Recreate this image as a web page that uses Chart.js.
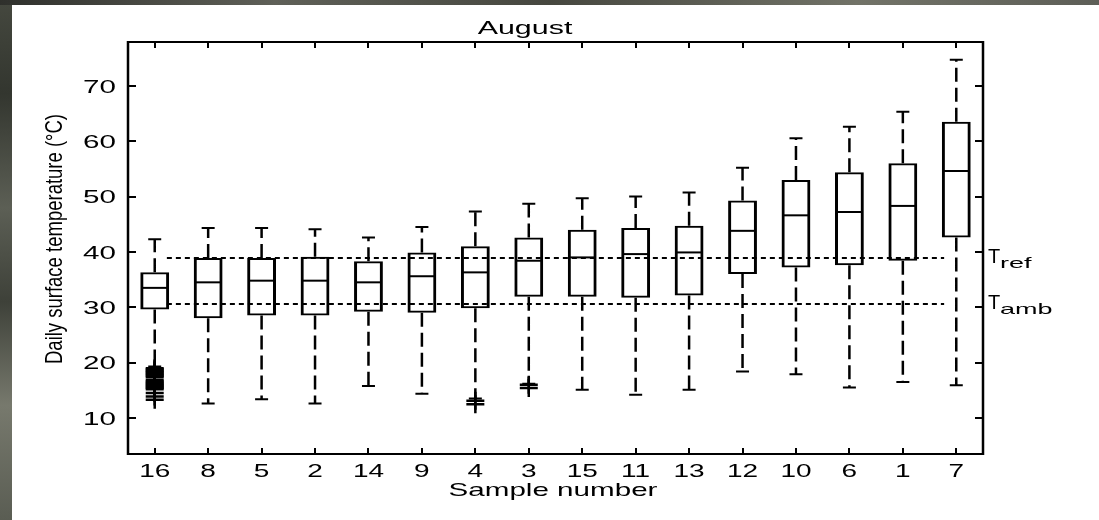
<!DOCTYPE html>
<html>
<head>
<meta charset="utf-8">
<title>August – daily surface temperature</title>
<script src="https://cdn.jsdelivr.net/npm/chart.js@4.4.1/dist/chart.umd.min.js"></script>
<style>
  html, body { margin: 0; padding: 0; width: 1099px; height: 520px; overflow: hidden; }
  body {
    position: relative;
    background: linear-gradient(180deg, #45483f 0%, #33362f 18%, #5c5f55 40%, #3e4139 58%, #77796d 78%, #5a5d53 100%);
  }
  #topband {
    position: absolute; left: 0; top: 0; width: 1099px; height: 5px;
    background: linear-gradient(90deg, #2f302c 0%, #5f6058 25%, #46473f 50%, #727368 78%, #5d5e57 100%);
  }
  #panel { position: absolute; left: 12px; top: 5px; right: 0; bottom: 0; background: #fff; }
  #wrap { position: absolute; left: 0; top: 0; width: 1099px; height: 520px; }
</style>
</head>
<body>
<div id="topband"></div>
<div id="panel"></div>
<div id="wrap"><canvas id="chart" width="1099" height="520"></canvas></div>
<script>
// Samples, ordered by median surface temperature
const samples = ['16', '8', '5', '2', '14', '9', '4', '3', '15', '11', '13', '12', '10', '6', '1', '7'];

// Box-plot statistics (°C)
const upperWhisker = [42.3, 44.3, 44.3, 44.1, 42.6, 44.5, 47.3, 48.7, 49.7, 50.0, 50.7, 55.2, 60.5, 62.6, 65.3, 74.7];
const q3           = [36.3, 38.9, 38.9, 39.1, 38.3, 39.9, 41.0, 42.6, 44.0, 44.3, 44.7, 49.3, 53.0, 54.4, 56.0, 63.5];
const median       = [33.5, 34.5, 34.8, 34.8, 34.5, 35.6, 36.3, 38.4, 39.0, 39.6, 39.9, 43.8, 46.6, 47.2, 48.3, 54.6];
const q1           = [29.6, 28.0, 28.5, 28.5, 29.2, 29.0, 29.8, 31.9, 31.9, 31.7, 32.1, 36.0, 37.2, 37.6, 38.4, 42.6];
const lowerWhisker = [19.3, 12.6, 13.4, 12.6, 15.8, 14.4, 13.5, 16.2, 15.1, 14.2, 15.1, 18.4, 17.9, 15.5, 16.5, 15.9];

// Outliers (°C)
const outliers16 = [19.0, 18.8, 18.6, 18.4, 18.2, 18.0, 17.8, 17.6, 17.35, 16.85, 16.6, 16.4, 16.2, 16.0, 15.8, 15.6, 15.4, 15.2, 14.5, 13.9, 13.3];
const outliers4  = [13.1, 12.5];
const outliers3  = [16.0, 15.4];

// Reference temperatures (°C)
const tRef = 38.9;
const tAmb = 30.6;

// Axis ticks
const yTicks = [10, 20, 30, 40, 50, 60, 70];
const yMin = 3.5, yMax = 77.9;

const FONT = '"Liberation Sans", Arial, Helvetica, sans-serif';
const WIDE = 1.6;   // horizontal stretch of the figure lettering

const whiskerPoints = [];
samples.forEach((s, i) => {
  whiskerPoints.push({ x: s, y: q3[i] }, { x: s, y: upperWhisker[i] }, { x: s, y: null });
  whiskerPoints.push({ x: s, y: q1[i] }, { x: s, y: lowerWhisker[i] }, { x: s, y: null });
});
const capPoints = [];
samples.forEach((s, i) => {
  capPoints.push({ x: s, y: upperWhisker[i] }, { x: s, y: lowerWhisker[i] });
});
const outlierPoints = [
  ...outliers16.map(v => ({ x: '16', y: v })),
  ...outliers4.map(v => ({ x: '4', y: v })),
  ...outliers3.map(v => ({ x: '3', y: v }))
];

function wideText(ctx, str, px, py, size, align, stretch) {
  ctx.save();
  ctx.translate(px, py);
  ctx.scale(stretch, 1);
  ctx.font = size + 'px ' + FONT;
  ctx.textAlign = align;
  ctx.textBaseline = 'alphabetic';
  ctx.fillStyle = '#000';
  ctx.fillText(str, 0, 0);
  ctx.restore();
}

// Axes frame with inward ticks, tick labels, titles and reference labels
const frameAndText = {
  id: 'frameAndText',
  afterDraw(chart) {
    const { ctx, chartArea: a, scales } = chart;
    const x = scales.x, y = scales.y;
    ctx.save();
    ctx.strokeStyle = '#000';
    ctx.lineCap = 'butt';

    // ticks
    ctx.lineWidth = 2;
    samples.forEach((s, i) => {
      const px = Math.round(x.getPixelForValue(i));
      ctx.beginPath();
      ctx.moveTo(px, a.bottom); ctx.lineTo(px, a.bottom - 6);
      ctx.moveTo(px, a.top); ctx.lineTo(px, a.top + 6);
      ctx.stroke();
    });
    yTicks.forEach(v => {
      const py = Math.round(y.getPixelForValue(v));
      ctx.beginPath();
      ctx.moveTo(a.left, py); ctx.lineTo(a.left + 8, py);
      ctx.moveTo(a.right, py); ctx.lineTo(a.right - 8, py);
      ctx.stroke();
    });

    // frame
    ctx.lineWidth = 2;
    ctx.beginPath();
    ctx.moveTo(a.left, a.top); ctx.lineTo(a.right, a.top);
    ctx.moveTo(a.left, a.bottom); ctx.lineTo(a.right, a.bottom);
    ctx.stroke();
    ctx.lineWidth = 2.5;
    ctx.beginPath();
    ctx.moveTo(a.left, a.top - 1); ctx.lineTo(a.left, a.bottom + 1);
    ctx.moveTo(a.right, a.top - 1); ctx.lineTo(a.right, a.bottom + 1);
    ctx.stroke();

    // tick labels
    samples.forEach((s, i) => {
      wideText(ctx, s, x.getPixelForValue(i), 477, 17.5, 'center', WIDE);
    });
    yTicks.forEach(v => {
      wideText(ctx, String(v), a.left - 12, y.getPixelForValue(v) + 6.8, 18.5, 'right', WIDE);
    });

    // titles
    wideText(ctx, 'August', 525, 33.5, 19, 'center', WIDE);
    wideText(ctx, 'Sample number', 553, 496, 18.5, 'center', WIDE);

    ctx.save();
    ctx.translate(62, 239);
    ctx.rotate(-Math.PI / 2);
    ctx.scale(1, 1.3);
    ctx.font = '18.5px ' + FONT;
    ctx.textAlign = 'center';
    ctx.textBaseline = 'alphabetic';
    ctx.fillStyle = '#000';
    ctx.fillText('Daily surface temperature (°C)', 0, 0);
    ctx.restore();

    // reference labels
    const refLabel = (main, sub, v) => {
      const py = y.getPixelForValue(v);
      const base = py + 5;
      ctx.font = '20px ' + FONT;
      ctx.fillStyle = '#000';
      ctx.textAlign = 'left';
      ctx.textBaseline = 'alphabetic';
      ctx.fillText(main, a.right + 5, base);
      wideText(ctx, sub, a.right + 17, base + 5, 15, 'left', 1.8);
    };
    refLabel('T', 'ref', tRef);
    refLabel('T', 'amb', tAmb);

    ctx.restore();
  }
};

new Chart(document.getElementById('chart'), {
  type: 'bar',
  data: {
    labels: samples,
    datasets: [
      {
        type: 'line',
        label: 'median',
        data: samples.map((s, i) => ({ x: s, y: median[i] })),
        showLine: false,
        pointStyle: 'line',
        pointRadius: 13,
        pointBorderWidth: 2,
        pointBorderColor: '#000',
        borderColor: '#000'
      },
      {
        type: 'bar',
        label: 'interquartile range',
        data: samples.map((s, i) => [q1[i], q3[i]]),
        backgroundColor: 'rgba(0,0,0,0)',
        borderColor: '#000',
        borderWidth: { top: 2, bottom: 2, left: 3, right: 3 },
        borderSkipped: false,
        grouped: false,
        barPercentage: 0.54,
        categoryPercentage: 1
      },
      {
        type: 'line',
        label: 'whiskers',
        data: whiskerPoints,
        spanGaps: false,
        borderColor: '#000',
        borderWidth: 2.5,
        borderDash: [14, 6],
        pointRadius: 0
      },
      {
        type: 'line',
        label: 'whisker ends',
        data: capPoints,
        showLine: false,
        pointStyle: 'line',
        pointRadius: 6.5,
        pointBorderWidth: 2,
        pointBorderColor: '#000',
        borderColor: '#000'
      },
      {
        type: 'line',
        label: 'outliers',
        data: outlierPoints,
        showLine: false,
        pointStyle: 'cross',
        pointRadius: 9,
        pointBorderWidth: 2.5,
        pointBorderColor: '#000',
        borderColor: '#000'
      },
      {
        type: 'line',
        label: 'T ref',
        xAxisID: 'xr',
        data: [{ x: 0, y: tRef }, { x: 1, y: tRef }],
        borderColor: '#000',
        borderWidth: 2,
        borderDash: [5, 4],
        pointRadius: 0
      },
      {
        type: 'line',
        label: 'T amb',
        xAxisID: 'xr',
        data: [{ x: 0, y: tAmb }, { x: 1, y: tAmb }],
        borderColor: '#000',
        borderWidth: 2,
        borderDash: [5, 4],
        pointRadius: 0
      }
    ]
  },
  options: {
    responsive: false,
    animation: false,
    events: [],
    layout: { padding: { left: 128, top: 42, right: 116, bottom: 66 } },
    plugins: { legend: { display: false }, tooltip: { enabled: false }, title: { display: false } },
    scales: {
      x: { type: 'category', offset: true, display: false },
      xr: { type: 'linear', min: 0, max: 1, display: false },
      y: { type: 'linear', min: yMin, max: yMax, display: false }
    }
  },
  plugins: [frameAndText]
});
</script>
</body>
</html>
